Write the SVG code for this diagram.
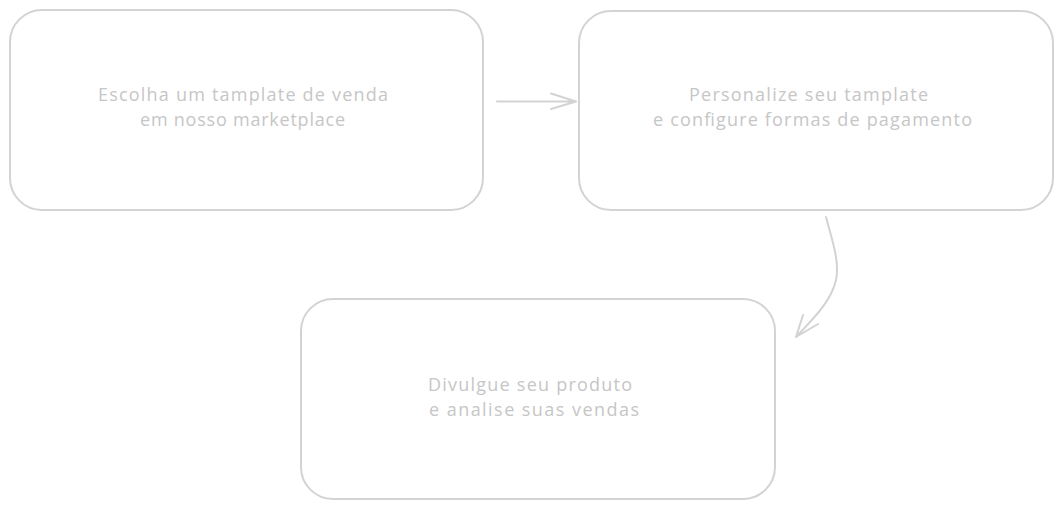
<svg xmlns="http://www.w3.org/2000/svg" width="1063" height="509" viewBox="0 0 1063 509">
<style>
.box{fill:#ffffff;stroke:#d3d3d3;stroke-width:2;}
.lbl{font-family:"Open Sans","Liberation Sans",sans-serif;font-size:18px;fill:#c6c6c6;}
.con{fill:none;stroke:#d3d3d3;stroke-width:2;stroke-linecap:round;stroke-linejoin:round;}
</style>
<rect width="1063" height="509" fill="#ffffff"/>
<g id="node-escolha">
<rect class="box" x="10" y="10" width="473" height="200" rx="32" ry="32"/>
<text class="lbl" x="98" y="101" textLength="290">Escolha um tamplate de venda</text>
<text class="lbl" x="140" y="126" textLength="205">em nosso marketplace</text>
</g>
<g id="node-personalize">
<rect class="box" x="579" y="11" width="474" height="199" rx="32" ry="32"/>
<text class="lbl" x="689" y="101" textLength="239">Personalize seu tamplate</text>
<text class="lbl" x="653" y="126" textLength="319">e configure formas de pagamento</text>
</g>
<g id="node-divulgue">
<rect class="box" x="301" y="299" width="474" height="200" rx="32" ry="32"/>
<text class="lbl" x="428" y="391" textLength="204">Divulgue seu produto</text>
<text class="lbl" x="429" y="416" textLength="210">e analise suas vendas</text>
</g>
<g id="connectors">
<path class="con" d="M497,101.5 L576,101.5 M551,93.5 L576,101.5 L551,109"/>
<path class="con" d="M826,217 C832,240 840,262 836,280 C831,302 812,320 796,337 M803,315 L796,337 L818,324"/>
</g>
</svg>
